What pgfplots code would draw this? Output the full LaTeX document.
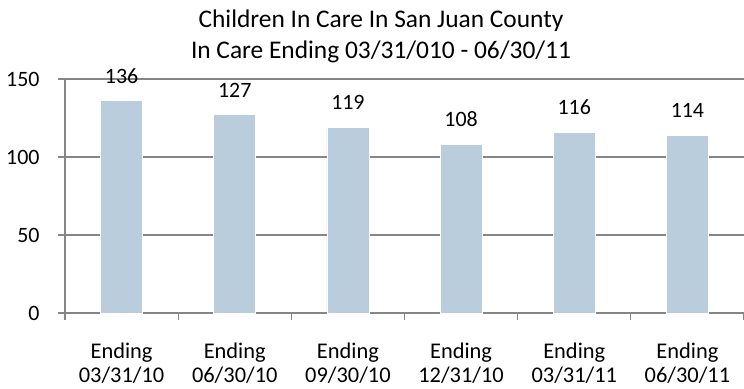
\documentclass[border=0pt]{standalone}
\usepackage{pgfplots}
\pgfplotsset{compat=1.18}
\usepackage{fontspec}
\setmainfont{Carlito}
\definecolor{barblue}{RGB}{185,205,220}
\definecolor{gridgray}{RGB}{134,134,134}
\begin{document}
\begin{tikzpicture}[x=1bp,y=1bp]
\useasboundingbox (-65,-75) rectangle (679,313);
\begin{axis}[
  at={(0,0)}, anchor=south west,
  scale only axis,
  width=679bp, height=234bp,
  xmin=-0.5, xmax=5.5, ymin=0, ymax=150,
  axis x line=bottom, axis y line=left,
  axis line style={gridgray, line width=1.2bp, -},
  xtick={0,1,2,3,4,5},
  xticklabels={{Ending\\03/31/10},{Ending\\06/30/10},{Ending\\09/30/10},{Ending\\12/31/10},{Ending\\03/31/11},{Ending\\06/30/11}},
  xticklabel style={align=center, font=\fontsize{22.5}{24.5}\selectfont, yshift=-19bp},
  minor xtick={-0.5,0.5,...,5.5},
  major x tick style={draw=none},
  minor x tick style={gridgray, line width=1.2bp},
  minor tick length=7bp,
  ytick={0,50,100,150},
  yticklabel style={font=\fontsize{22}{24}\selectfont, xshift=-15bp},
  /pgf/number format/assume math mode=true,
  ymajorgrids,
  grid style={gridgray, line width=1.2bp},
  major y tick style={gridgray, line width=1.2bp},
  major tick length=7bp,
  tick align=outside,
  ybar, bar width=42bp,
  nodes near coords,
  every node near coord/.append style={font=\fontsize{22}{24}\selectfont, anchor=south, inner sep=0pt, yshift=17bp, text=black},
  clip=false,
]
\addplot[fill=barblue, draw=white, line width=0.8bp] coordinates {(0,136) (1,127) (2,119) (3,108) (4,116) (5,114)};
\end{axis}
\node[font=\fontsize{25.5}{30}\selectfont, anchor=base, inner sep=0pt] at (316,286) {Children In Care In San Juan County};
\node[font=\fontsize{25.5}{30}\selectfont, anchor=base, inner sep=0pt] at (316,255) {In Care Ending 03/31/010 - 06/30/11};
\end{tikzpicture}
\end{document}
